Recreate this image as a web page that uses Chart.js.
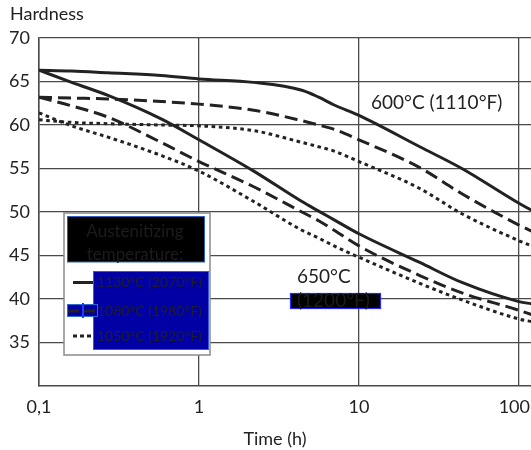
<!DOCTYPE html>
<html>
<head>
<meta charset="utf-8">
<script src="https://cdn.jsdelivr.net/npm/chart.js@4/dist/chart.umd.min.js"></script>
<style>
html,body{margin:0;padding:0;background:#fff;}
canvas{display:block;}
</style>
</head>
<body>
<canvas id="c" width="531" height="450"></canvas>
<script>
// ---- data ----
const times = [0.1, 0.16, 0.27, 0.58, 1, 2.2, 4.4, 5.6, 7, 10, 24, 44, 100, 120];
const h600_1130 = [66.3, 66.2, 66.0, 65.7, 65.3, 64.9, 64.0, 63.2, 62.3, 61.1, 57.5, 55.0, 51.0, 50.2];
const h600_1080 = [63.2, 63.1, 63.0, 62.7, 62.4, 61.7, 60.5, 60.0, 59.5, 58.3, 55.1, 52.1, 48.5, 47.8];
const h600_1050 = [60.6, 60.3, 60.15, 60.0, 59.9, 59.35, 58.0, 57.5, 57.0, 55.8, 52.7, 49.8, 46.7, 46.1];
const h650_1130 = [66.3, 64.9, 63.4, 60.7, 58.3, 54.7, 51.2, 50.1, 49.1, 47.5, 44.2, 41.9, 39.7, 39.45];
const h650_1080 = [63.2, 62.2, 60.9, 58.0, 55.8, 52.9, 50.0, 49.0, 47.9, 46.1, 42.7, 40.7, 38.7, 38.2];
const h650_1050 = [61.4, 59.9, 58.6, 56.5, 54.7, 51.2, 47.9, 47.0, 46.1, 44.8, 41.8, 39.9, 37.7, 37.4];

const xTicks = [0.1, 1, 10, 100];
const xTickLabels = ['0,1', '1', '10', '100'];
const yTicks = [35, 40, 45, 50, 55, 60, 65, 70];
const yTitle = 'Hardness';
const xTitle = 'Time (h)';
const legendTitle = ['Austenitizing', 'temperature:'];
const legendLabels = ['1130°C (2070°F)', '1080°C (1980°F)', '1050°C (1920°F)'];
const label600 = '600°C (1110°F)';
const label650 = ['650°C', '(1200°F)'];

// ---- styles ----
const INK = '#222222';
const styles = [
  { borderDash: [] },
  { borderDash: [13, 6] },
  { borderDash: [3.6, 3.6] }
];
const FONT = 'Lato';

function pts(arr) { return arr.map((v, i) => ({ x: times[i], y: v })); }
function ds(arr, styleIdx) {
  return {
    data: pts(arr),
    borderColor: INK,
    borderWidth: 3,
    borderDash: styles[styleIdx].borderDash,
    borderCapStyle: 'butt',
    pointRadius: 0,
    fill: false,
    cubicInterpolationMode: 'monotone'
  };
}

const overlay = {
  id: 'overlay',
  afterDraw(chart) {
    const ctx = chart.ctx;
    const W = chart.width;
    ctx.save();
    ctx.fillStyle = INK;
    ctx.textBaseline = 'middle';
    ctx.font = '18px ' + FONT;

    // x tick labels placed by the scale, last one kept inside the canvas
    const xs = chart.scales.x;
    ctx.textAlign = 'center';
    xTicks.forEach((v, i) => {
      const w = ctx.measureText(xTickLabels[i]).width;
      const px = Math.min(xs.getPixelForValue(v), W - w / 2 - 1);
      ctx.fillText(xTickLabels[i], px, 407);
    });

    ctx.textAlign = 'left';
    ctx.fillText(yTitle, 10, 14);
    ctx.textAlign = 'center';
    ctx.fillText(xTitle, 275, 439);

    // curve group labels
    ctx.font = '19px ' + FONT;
    ctx.textAlign = 'left';
    ctx.fillText(label600, 371, 103);
    ctx.fillText(label650[0], 297, 277);
    ctx.fillStyle = '#000';
    ctx.fillRect(290, 293, 91, 15.5);
    ctx.strokeStyle = '#2626ff';
    ctx.lineWidth = 1.2;
    ctx.strokeRect(290.5, 293.5, 90, 15);
    ctx.fillStyle = '#1c1c1c';
    ctx.fillText(label650[1], 297, 301);

    // legend
    ctx.fillStyle = '#fff';
    ctx.fillRect(64, 213, 146, 142);
    ctx.strokeStyle = '#8a8a8a';
    ctx.lineWidth = 1.5;
    ctx.strokeRect(64, 213, 146, 142);

    ctx.fillStyle = '#000';
    ctx.fillRect(67, 216, 138, 46);
    ctx.strokeStyle = '#2a62c0';
    ctx.lineWidth = 1;
    ctx.strokeRect(67.5, 216.5, 137, 45.5);
    ctx.fillStyle = '#1c1c1c';
    ctx.font = '17px ' + FONT;
    ctx.textAlign = 'center';
    ctx.fillText(legendTitle[0], 135, 232);
    ctx.fillText(legendTitle[1], 135, 255);

    ctx.fillStyle = '#0000a4';
    ctx.fillRect(93, 271, 116, 79);
    ctx.strokeStyle = '#3a5ccc';
    ctx.strokeRect(93.5, 271.5, 115, 78);

    const rows = [282.5, 311, 336];
    const sets = chart.data.datasets;
    ctx.fillStyle = '#0000a4';
    ctx.fillRect(67, 304, 31, 13);
    ctx.strokeStyle = '#2a6cd0';
    ctx.strokeRect(67.5, 304.5, 30, 12);
    const segs = [[73, 93], [68, 97], [73, 93]];
    for (let i = 0; i < 3; i++) {
      ctx.beginPath();
      ctx.setLineDash(i === 1 ? [11, 5] : (i === 2 ? [4, 3] : []));
      ctx.strokeStyle = sets[i].borderColor;
      ctx.lineWidth = 3;
      ctx.moveTo(segs[i][0], rows[i]);
      ctx.lineTo(segs[i][1], rows[i]);
      ctx.stroke();
    }
    ctx.setLineDash([]);
    ctx.strokeStyle = '#1a3cff';
    ctx.lineWidth = 2;
    ctx.beginPath();
    ctx.moveTo(83, 303);
    ctx.lineTo(83, 318);
    ctx.stroke();

    ctx.font = '14px ' + FONT;
    ctx.textAlign = 'left';
    ctx.fillStyle = '#1e1e2a';
    for (let i = 0; i < 3; i++) ctx.fillText(legendLabels[i], 97, rows[i]);
    ctx.restore();
  }
};

new Chart(document.getElementById('c'), {
  type: 'line',
  data: {
    datasets: [
      ds(h650_1130, 0), ds(h650_1080, 1), ds(h650_1050, 2),
      ds(h600_1130, 0), ds(h600_1080, 1), ds(h600_1050, 2)
    ]
  },
  options: {
    responsive: false,
    animation: false,
    devicePixelRatio: 1,
    layout: { padding: { top: 38, right: 0, left: 0, bottom: 0 } },
    plugins: { legend: { display: false }, tooltip: { enabled: false } },
    scales: {
      x: {
        type: 'logarithmic',
        min: 0.1,
        max: 119,
        afterBuildTicks: s => { s.ticks = xTicks.map(v => ({ value: v })); },
        afterFit: s => { s.height = 64; s.paddingLeft = 0; s.paddingRight = 0; },
        ticks: {
          display: false,
          callback: (v, i) => xTickLabels[i],
          autoSkip: false
        },
        grid: { color: '#4a4a4a', lineWidth: 1.3, drawTicks: false },
        border: { color: '#4a4a4a', width: 1.5 }
      },
      y: {
        min: 30,
        max: 70,
        afterBuildTicks: s => { s.ticks = yTicks.map(v => ({ value: v })); },
        afterFit: s => { s.width = 39; s.paddingTop = 0; s.paddingBottom = 0; },
        ticks: {
          callback: v => String(v),
          font: { family: FONT, size: 18 },
          color: INK,
          padding: 9
        },
        grid: { color: '#4a4a4a', lineWidth: 1.3, drawTicks: false },
        border: { color: '#4a4a4a', width: 1.5 }
      }
    }
  },
  plugins: [overlay]
});
</script>
</body>
</html>
